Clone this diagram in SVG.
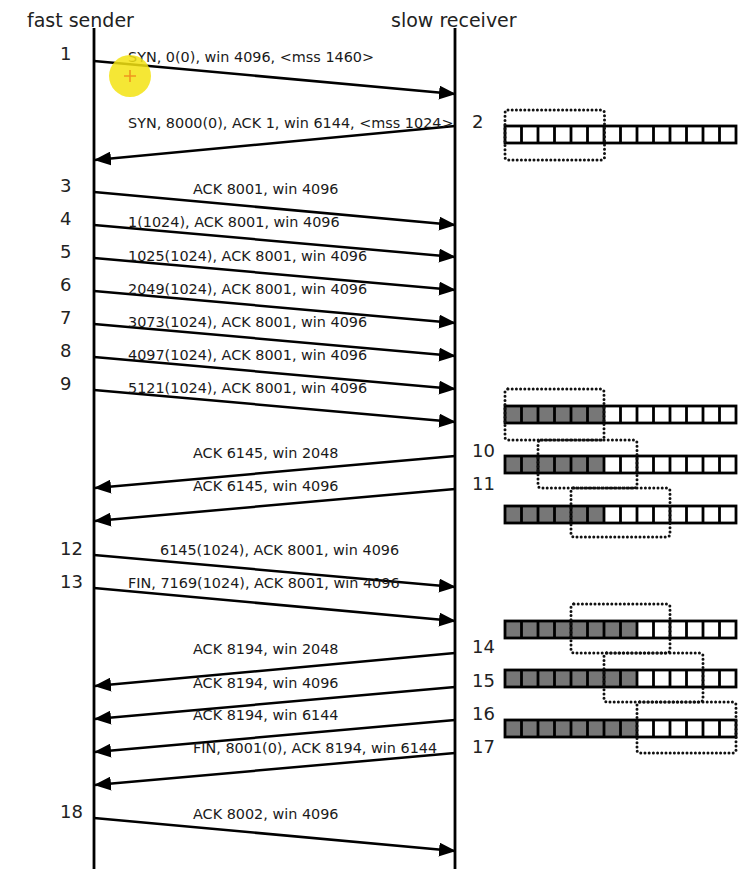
<svg xmlns="http://www.w3.org/2000/svg" xmlns:xlink="http://www.w3.org/1999/xlink" width="754" height="869" viewBox="0 0 754 869">
<style>
.hdr{font-family:"DejaVu Sans","Liberation Sans",sans-serif;font-size:19px;fill:#222}
.num{font-family:"DejaVu Sans","Liberation Sans",sans-serif;font-size:18px;fill:#222}
.lbl{font-family:"DejaVu Sans","Liberation Sans",sans-serif;font-size:14.4px;fill:#1a1a1a}
.life{stroke:#000;stroke-width:2.8;fill:none}
.msg{stroke:#000;stroke-width:2.5;fill:none;marker-end:url(#ah)}
.win{fill:none;stroke:#111;stroke-width:3;stroke-dasharray:0 4.2;stroke-linecap:round}
.grid{fill:none;stroke:#000;stroke-width:2.8}
.full{fill:#777}
</style>
<defs>
<marker id="ah" markerWidth="17" markerHeight="14" refX="16" refY="7" orient="auto" markerUnits="userSpaceOnUse">
<path d="M0,0 L17,7 L0,14 z" fill="#000"/>
</marker>
<g id="cells">
<rect x="0" y="0" width="231" height="17" fill="#fff"/>
</g>
<g id="grid">
<rect class="grid" x="0" y="0" width="231" height="17"/>
<path class="grid" d="M16.5,0V17M33,0V17M49.5,0V17M66,0V17M82.5,0V17M99,0V17M115.5,0V17M132,0V17M148.5,0V17M165,0V17M181.5,0V17M198,0V17M214.5,0V17"/>
</g>
</defs>
<rect width="754" height="869" fill="#fff"/>

<g id="sender">
<text class="hdr" x="27" y="27">fast sender</text>
<line class="life" x1="94" y1="28" x2="94" y2="869"/>
</g>
<g id="receiver">
<text class="hdr" x="391" y="27">slow receiver</text>
<line class="life" x1="455" y1="28" x2="455" y2="869"/>
</g>

<g id="connectors">
<line class="msg" x1="94" y1="61" x2="455" y2="94"/>
<line class="msg" x1="455" y1="126" x2="95" y2="160"/>
<line class="msg" x1="94" y1="192" x2="455" y2="225"/>
<line class="msg" x1="94" y1="225" x2="455" y2="257"/>
<line class="msg" x1="94" y1="258" x2="455" y2="290"/>
<line class="msg" x1="94" y1="291" x2="455" y2="323"/>
<line class="msg" x1="94" y1="324" x2="455" y2="356"/>
<line class="msg" x1="94" y1="357" x2="455" y2="389"/>
<line class="msg" x1="94" y1="390" x2="455" y2="422"/>
<line class="msg" x1="455" y1="456" x2="95" y2="488"/>
<line class="msg" x1="455" y1="489" x2="95" y2="521"/>
<line class="msg" x1="94" y1="555" x2="455" y2="587"/>
<line class="msg" x1="94" y1="588" x2="455" y2="621"/>
<line class="msg" x1="455" y1="653" x2="95" y2="686"/>
<line class="msg" x1="455" y1="687" x2="95" y2="719"/>
<line class="msg" x1="455" y1="720" x2="95" y2="752"/>
<line class="msg" x1="455" y1="753" x2="95" y2="785"/>
<line class="msg" x1="94" y1="818" x2="455" y2="851"/>
</g>

<g id="labels">
<text class="lbl" x="128" y="62">SYN, 0(0), win 4096, &lt;mss 1460&gt;</text>
<text class="lbl" x="128" y="128">SYN, 8000(0), ACK 1, win 6144, &lt;mss 1024&gt;</text>
<text class="lbl" x="193" y="194">ACK 8001, win 4096</text>
<text class="lbl" x="128" y="227">1(1024), ACK 8001, win 4096</text>
<text class="lbl" x="128" y="261">1025(1024), ACK 8001, win 4096</text>
<text class="lbl" x="128" y="294">2049(1024), ACK 8001, win 4096</text>
<text class="lbl" x="128" y="327">3073(1024), ACK 8001, win 4096</text>
<text class="lbl" x="128" y="360">4097(1024), ACK 8001, win 4096</text>
<text class="lbl" x="128" y="393">5121(1024), ACK 8001, win 4096</text>
<text class="lbl" x="193" y="458">ACK 6145, win 2048</text>
<text class="lbl" x="193" y="491">ACK 6145, win 4096</text>
<text class="lbl" x="160" y="555">6145(1024), ACK 8001, win 4096</text>
<text class="lbl" x="128" y="588">FIN, 7169(1024), ACK 8001, win 4096</text>
<text class="lbl" x="193" y="654">ACK 8194, win 2048</text>
<text class="lbl" x="193" y="688">ACK 8194, win 4096</text>
<text class="lbl" x="193" y="720">ACK 8194, win 6144</text>
<text class="lbl" x="193" y="753">FIN, 8001(0), ACK 8194, win 6144</text>
<text class="lbl" x="193" y="819">ACK 8002, win 4096</text>
</g>

<g id="step-numbers">
<text class="num" x="60" y="60">1</text>
<text class="num" x="472" y="128">2</text>
<text class="num" x="60" y="192">3</text>
<text class="num" x="60" y="225">4</text>
<text class="num" x="60" y="258">5</text>
<text class="num" x="60" y="291">6</text>
<text class="num" x="60" y="324">7</text>
<text class="num" x="60" y="357">8</text>
<text class="num" x="60" y="390">9</text>
<text class="num" x="472" y="457">10</text>
<text class="num" x="472" y="490">11</text>
<text class="num" x="60" y="555">12</text>
<text class="num" x="60" y="588">13</text>
<text class="num" x="472" y="653">14</text>
<text class="num" x="472" y="687">15</text>
<text class="num" x="472" y="720">16</text>
<text class="num" x="472" y="753">17</text>
<text class="num" x="60" y="818">18</text>
</g>

<g id="buffer-2" transform="translate(505,126)">
<use xlink:href="#cells"/><use xlink:href="#grid"/>
<rect class="win" x="0" y="-16" width="99.5" height="50" rx="3"/>
</g>
<g id="buffer-9" transform="translate(505,406)">
<use xlink:href="#cells"/><rect class="full" x="0" y="0" width="99" height="17"/><use xlink:href="#grid"/>
<rect class="win" x="0" y="-17" width="99" height="51" rx="3"/>
</g>
<g id="buffer-10" transform="translate(505,456)">
<use xlink:href="#cells"/><rect class="full" x="0" y="0" width="99" height="17"/><use xlink:href="#grid"/>
<rect class="win" x="33" y="-16" width="99" height="48" rx="3"/>
</g>
<g id="buffer-11" transform="translate(505,506)">
<use xlink:href="#cells"/><rect class="full" x="0" y="0" width="99" height="17"/><use xlink:href="#grid"/>
<rect class="win" x="66" y="-18" width="99" height="49" rx="3"/>
</g>
<g id="buffer-14" transform="translate(505,621)">
<use xlink:href="#cells"/><rect class="full" x="0" y="0" width="132" height="17"/><use xlink:href="#grid"/>
<rect class="win" x="66" y="-17" width="99" height="49" rx="3"/>
</g>
<g id="buffer-15" transform="translate(505,670)">
<use xlink:href="#cells"/><rect class="full" x="0" y="0" width="132" height="17"/><use xlink:href="#grid"/>
<rect class="win" x="99" y="-17" width="99" height="49" rx="3"/>
</g>
<g id="buffer-16" transform="translate(505,720)">
<use xlink:href="#cells"/><rect class="full" x="0" y="0" width="132" height="17"/><use xlink:href="#grid"/>
<rect class="win" x="132" y="-18" width="99" height="51" rx="3"/>
</g>

<g id="cursor">
<circle cx="130" cy="76" r="21" fill="#f3e312" opacity="0.85"/>
<path d="M124,76H136M130,70V82" stroke="#f0961e" stroke-width="1.6"/>
</g>
</svg>
